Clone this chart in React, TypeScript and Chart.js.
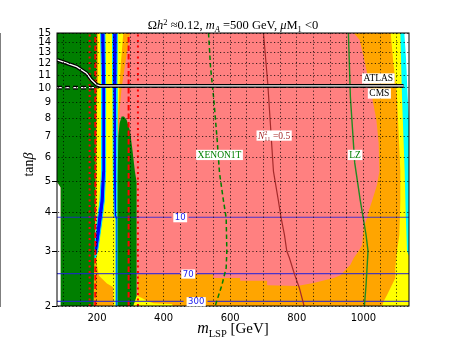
import React, { useEffect, useRef } from 'react';
import { Chart, registerables } from 'chart.js';

Chart.register(...registerables);

type Pt = [number, number];

// ---------- axes ----------
const X_MIN = 80;
const X_MAX = 1137;
const Y_MIN = 2;
const Y_MAX = 15;
const xTickValues = [100, 150, 200, 250, 300, 350, 400, 450, 500, 550, 600, 650, 700, 750, 800, 850, 900, 950, 1000, 1050, 1100];
const xTickLabels = [200, 400, 600, 800, 1000];
const yTickValues = [2, 3, 4, 5, 6, 7, 8, 9, 10, 11, 12, 13, 14, 15];
const yTicksWithMarks = [2, 3, 4, 5];

// ---------- filled regions (m_LSP [GeV], tan beta) ----------
const pinkRegion: Pt[] = [[80, 2], [1137, 2], [1137, 15], [80, 15]];
const whiteCorner: Pt[] = [[80, 5.0], [91, 4.8], [92, 2], [80, 2]];
const orangeMain: Pt[] = [
  [971, 15], [989, 14.24], [1001, 12.57], [1011, 11.17], [1026, 9.35], [1039, 7.89], [1046, 6.66],
  [1048, 5.4], [1041, 4.89], [1026, 4.34], [1016, 4.03], [1011, 3.83], [1001, 3.56], [996, 3.14],
  [986, 3.0], [971, 2.85], [961, 2.71], [931, 2.51], [911, 2.46], [850, 2.37], [801, 2.32],
  [711, 2.33], [711, 2.41], [630, 2.41], [630, 2.46], [549, 2.46], [549, 2.53], [323, 2.53],
  [323, 2], [1137, 2], [1137, 15],
];
const yellowRight: Pt[] = [
  [1082, 15], [1090, 12], [1101, 9.35], [1111, 5.4], [1111, 4.34], [1108, 3.38], [1101, 3.0],
  [1096, 2.65], [1096, 2.46], [1081, 2.28], [1071, 2.17], [1061, 2.07], [1056, 2.0], [1137, 2], [1137, 15],
];
const cyanRight: Pt[] = [[1111, 15], [1116, 9.35], [1124, 5.4], [1127, 4.0], [1131, 3.0], [1137, 2.9], [1137, 15]];
const whiteTopRight: Pt[] = [[1123, 15], [1137, 15], [1137, 8], [1133, 9.35], [1128, 12.5]];
const yellowLow: Pt[] = [[309, 2], [319, 2.16], [335, 2.12], [350, 2.08], [370, 2.04], [425, 2.03], [428, 2]];
const funnelOrange: Pt[] = [[196, 15], [299, 15], [285, 12], [274, 10], [268, 8.5], [264, 7], [262, 2], [191, 2]];
const funnelYellow: Pt[] = [[203, 15], [279, 15], [272, 12], [267, 10], [264, 8.5], [262, 7], [261, 2], [194, 2], [195, 3], [199, 5], [201, 10]];
const funnelOrangeLow: Pt[] = [[192, 2], [192, 2.75], [200, 2.7], [206, 2.5], [230, 2.36], [248, 2.3], [250, 2]];
const blueLeft: Pt[] = [
  [211, 15], [214, 10], [214, 5.4], [209, 4.34], [202, 3.83], [196, 3.38], [192, 3.0], [194, 2.85],
  [198, 2.9], [202, 3.0], [209, 3.38], [216, 3.83], [222, 4.34], [226, 5.4], [226, 10], [224, 15],
];
const blueRight: Pt[] = [[247, 15], [261, 15], [260, 10], [259, 5.4], [260, 3.9], [263, 3.8], [263, 2], [257, 2], [257, 3.8], [252, 3.9], [249, 5.4], [248, 10]];
const greenLeft: Pt[] = [[80, 15], [199, 15], [198, 10], [196, 6], [195, 4], [193, 3], [191, 2.5], [190, 2], [92, 2], [91, 4.8], [80, 5.0]];
const greenSpike: Pt[] = [[261, 2], [262, 5], [264, 7.0], [268, 7.7], [274, 8.1], [281, 8.1], [289, 7.9], [299, 7.3], [306, 6.4], [314, 5.4], [319, 5.0], [319, 2.15], [309, 2]];

// ---------- lines ----------
const redDottedX = [178, 323];
const redDashedX = [195, 295];
const contourLevels = ['10', '70', '300'];
const contourTanB = [3.85, 2.54, 2.07];
const contourGapFrom = [424, 450, 460];
const contourGapTo = [475, 500, 532];
const contourLabelX = [450, 474, 498];
const xenonLine: Pt[] = [[535, 15], [541, 11.7], [551, 9.15], [561, 6.8], [568, 5.34], [580, 4.34], [588, 3.83], [590, 3.0], [588, 2.65], [575, 2.33], [555, 2.0]];
const n11Line: Pt[] = [[700, 15], [713, 10.3], [730, 5.4], [745, 4.34], [753, 3.83], [763, 3.38], [770, 3.0], [778, 2.85], [793, 2.53], [808, 2.28], [822, 2.0]];
const lzLine: Pt[] = [[955, 15], [961, 9.35], [974, 5.75], [991, 4.34], [1008, 3.38], [1014, 3.0], [1011, 2.65], [1008, 2.33], [1003, 2.0]];
const atlasLine: Pt[] = [[80, 12.3], [139, 11.7], [169, 11.14], [184, 10.6], [199, 10.24], [209, 10.16], [1120, 10.16]];
const cmsLine: Pt[] = [[80, 10.02], [195, 10.02], [209, 10.16], [1120, 10.16]];

// ---------- text labels ----------
type Seg = { t: string; size: number; italic?: boolean; dy?: number; noAdvance?: boolean };
const SERIF = '"Liberation Serif", "DejaVu Serif", serif';
const SANS = '"DejaVu Sans", sans-serif';

const titleSegs: Seg[] = [
  { t: 'Ω', size: 12.5 }, { t: 'h', size: 12.5, italic: true }, { t: '2', size: 8.5, dy: -4.5 },
  { t: ' ≈0.12, ', size: 12.5 }, { t: 'm', size: 12.5, italic: true }, { t: 'A', size: 8.5, italic: true, dy: 2.5 },
  { t: ' =500 GeV, ', size: 12.5 }, { t: 'μ', size: 12.5, italic: true }, { t: 'M', size: 12.5 },
  { t: '1', size: 8.5, dy: 2.5 }, { t: ' <0', size: 12.5 },
];
const xTitleSegs: Seg[] = [{ t: 'm', size: 16, italic: true }, { t: 'LSP', size: 10.5, dy: 3.5 }, { t: ' [GeV]', size: 15 }];
const yTitleSegs: Seg[] = [{ t: 'tan', size: 14 }, { t: 'β', size: 14, italic: true }];

type Ann = { x: number; y: number; segs: Seg[]; color: string; family: string; size: number };
const annotations: Ann[] = [
  { x: 1045, y: 10.76, segs: [{ t: 'ATLAS', size: 9.5 }], color: '#000', family: SERIF, size: 9.5 },
  { x: 1048, y: 9.63, segs: [{ t: 'CMS', size: 9.5 }], color: '#000', family: SERIF, size: 9.5 },
  { x: 568, y: 6.12, segs: [{ t: 'XENON1T', size: 9.5 }], color: '#008000', family: SERIF, size: 9.5 },
  { x: 975, y: 6.12, segs: [{ t: 'LZ', size: 9.5 }], color: '#008000', family: SERIF, size: 9.5 },
  {
    x: 732, y: 7.06,
    segs: [{ t: 'N', size: 9.5, italic: true }, { t: '2', size: 6.5, dy: -3.5, noAdvance: true }, { t: '11', size: 6.5, dy: 2.5 }, { t: ' =0.5', size: 9.5 }],
    color: '#a52a2a', family: SERIF, size: 9.5,
  },
];

function fontOf(s: Seg, family: string) {
  return `${s.italic ? 'italic ' : ''}${s.size}px ${family}`;
}

function drawRich(
  ctx: CanvasRenderingContext2D, segs: Seg[], cx: number, cy: number,
  opts: { color: string; family: string; size: number; box?: boolean; vcenter?: boolean },
) {
  ctx.save();
  const widths = segs.map((s) => { ctx.font = fontOf(s, opts.family); return ctx.measureText(s.t).width; });
  let adv = 0;
  let maxRight = 0;
  const xs: number[] = [];
  segs.forEach((s, i) => {
    xs.push(adv);
    maxRight = Math.max(maxRight, adv + widths[i]);
    if (!s.noAdvance) adv += widths[i];
  });
  const W = Math.max(adv, maxRight);
  const x0 = cx - W / 2;
  const base = opts.vcenter ? cy + opts.size * 0.36 : cy;
  if (opts.box) {
    ctx.fillStyle = '#ffffff';
    ctx.fillRect(x0 - 1.5, base - opts.size * 0.85, W + 3, opts.size * 1.08);
  }
  ctx.fillStyle = opts.color;
  ctx.textBaseline = 'alphabetic';
  ctx.textAlign = 'left';
  segs.forEach((s, i) => {
    ctx.font = fontOf(s, opts.family);
    ctx.fillText(s.t, x0 + xs[i], base + (s.dy || 0));
  });
  ctx.restore();
}

const textPlugin = {
  id: 'richTexts',
  afterDraw(chart: any) {
    const { ctx, chartArea } = chart;
    const xs = chart.scales.x;
    const ys = chart.scales.y;
    // clean the margin above the plot
    ctx.save();
    ctx.fillStyle = '#ffffff';
    ctx.fillRect(chartArea.left - 0.5, 0, chartArea.right - chartArea.left + 6, chartArea.top - 0.5);
    ctx.restore();
    // frame
    ctx.save();
    ctx.strokeStyle = '#000';
    ctx.lineWidth = 1;
    ctx.strokeRect(chartArea.left, chartArea.top, chartArea.right - chartArea.left, chartArea.bottom - chartArea.top);
    ctx.restore();
    // in-plot labels
    annotations.forEach((a) => {
      drawRich(ctx, a.segs, xs.getPixelForValue(a.x), ys.getPixelForValue(a.y), { color: a.color, family: a.family, size: a.size, box: true, vcenter: true });
    });
    contourLevels.forEach((lv, i) => {
      drawRich(ctx, [{ t: lv, size: 8.5 }], xs.getPixelForValue(contourLabelX[i]), ys.getPixelForValue(contourTanB[i]),
        { color: '#2222ee', family: SANS, size: 8.5, box: true, vcenter: true });
    });
    // title
    const cx = (chartArea.left + chartArea.right) / 2;
    drawRich(ctx, titleSegs, cx, chartArea.top - 4, { color: '#000', family: SERIF, size: 12.5 });
    // x title
    drawRich(ctx, xTitleSegs, cx, chartArea.bottom + 27, { color: '#000', family: SERIF, size: 15 });
    // y title
    ctx.save();
    ctx.translate(33, (chartArea.top + chartArea.bottom) / 2 - 5);
    ctx.rotate(-Math.PI / 2);
    drawRich(ctx, yTitleSegs, 0, 0, { color: '#000', family: SERIF, size: 14 });
    ctx.restore();
  },
};

const toXY = (pts: Pt[]) => pts.map(([x, y]) => ({ x, y }));

function App() {
  const ref = useRef<HTMLCanvasElement | null>(null);

  useEffect(() => {
    if (!ref.current) return;
    const layers: any[] = [];
    const poly = (pts: Pt[], color: string, border?: string, bw?: number) => {
      layers.push({
        data: toXY([...pts, pts[0]]), fill: 'shape', backgroundColor: color,
        borderColor: border || 'rgba(0,0,0,0)', borderWidth: bw || 0.01, pointRadius: 0, tension: 0,
      });
    };
    const line = (pts: Pt[], color: string, width: number, dash: number[] = []) => {
      layers.push({
        data: toXY(pts), fill: false, borderColor: color, borderWidth: width, borderDash: dash,
        pointRadius: 0, tension: 0, borderCapStyle: 'butt',
      });
    };

    poly(pinkRegion, '#ff8080');
    poly(whiteCorner, '#ffffff');
    poly(orangeMain, '#ffa500');
    poly(yellowRight, '#ffff00');
    poly(cyanRight, '#00ffff');
    poly(whiteTopRight, '#ffffff');
    poly(yellowLow, '#ffff00');
    poly(funnelOrange, '#ffa500');
    poly(funnelYellow, '#ffff00');
    poly(funnelOrangeLow, '#ffa500');
    poly(blueLeft, '#0000ff', '#00e0ff', 1);
    poly(blueRight, '#0000ff', '#00e0ff', 1);
    poly(greenLeft, '#007f00');
    poly(greenSpike, '#007f00');

    redDottedX.forEach((x) => line([[x, Y_MIN], [x, Y_MAX]], '#ff0000', 2, [2, 3.5]));
    redDashedX.forEach((x) => line([[x, Y_MIN], [x, Y_MAX]], '#ff0000', 2, [5.5, 3]));
    contourTanB.forEach((t, i) => {
      line([[X_MIN, t], [contourGapFrom[i], t]], 'rgba(30,30,220,0.8)', 1.2);
      line([[contourGapTo[i], t], [X_MAX, t]], 'rgba(30,30,220,0.8)', 1.2);
    });
    line(xenonLine, '#008000', 1.5, [4.5, 3]);
    line(n11Line, '#a52a2a', 1.2);
    line(lzLine, '#228b22', 1.4);
    line(cmsLine, '#000000', 3.8, [5, 3]);
    line(cmsLine, '#ffffff', 1.2, [5, 3]);
    line(atlasLine, '#000000', 3.8);
    line(atlasLine, '#ffffff', 1.2);

    const n = layers.length;
    layers.forEach((d, i) => { d.order = n - i; });

    const chart = new Chart(ref.current, {
      type: 'line',
      data: { datasets: layers },
      plugins: [textPlugin],
      options: {
        responsive: false,
        animation: false,
        devicePixelRatio: 1,
        events: [],
        layout: { padding: { left: 0, top: 33, right: 45, bottom: 0 } },
        plugins: { legend: { display: false }, tooltip: { enabled: false }, title: { display: false } },
        scales: {
          x: {
            type: 'linear', min: X_MIN, max: X_MAX,
            afterBuildTicks: (s: any) => { s.ticks = xTickValues.map((v) => ({ value: v })); },
            afterFit: (s: any) => { s.height = 35; },
            ticks: {
              autoSkip: false, maxRotation: 0, minRotation: 0, padding: 2, color: '#000',
              font: { family: SANS, size: 10 },
              callback: (v: any) => (xTickLabels.includes(Number(v)) ? String(v) : ''),
            },
            grid: { color: 'rgba(0,0,0,0.75)', lineWidth: 1, z: 1, tickLength: 4, tickColor: 'rgba(0,0,0,0)' },
            border: { display: true, color: '#000', width: 1, dash: [1.2, 2.4] },
          },
          y: {
            type: 'logarithmic', min: Y_MIN, max: Y_MAX,
            afterBuildTicks: (s: any) => { s.ticks = yTickValues.map((v) => ({ value: v })); },
            afterFit: (s: any) => { s.width = 57; },
            ticks: {
              padding: 1, color: '#000', font: { family: SANS, size: 10 },
              callback: (v: any) => String(v),
            },
            grid: {
              color: 'rgba(0,0,0,0.75)', lineWidth: 1, z: 1, tickLength: 5,
              tickColor: (c: any) => (c.tick && yTicksWithMarks.includes(c.tick.value) ? '#000' : 'rgba(0,0,0,0)'),
            },
            border: { display: true, color: '#000', width: 1, dash: [1.2, 2.4] },
          },
        },
      } as any,
    });
    return () => chart.destroy();
  }, []);

  return (
    <div style={{ position: 'absolute', left: 0, top: 0, width: 454, height: 341, background: '#fff' }}>
      <canvas ref={ref} width={454} height={341} style={{ display: 'block', width: 454, height: 341 }} />
    </div>
  );
}

export default App;
